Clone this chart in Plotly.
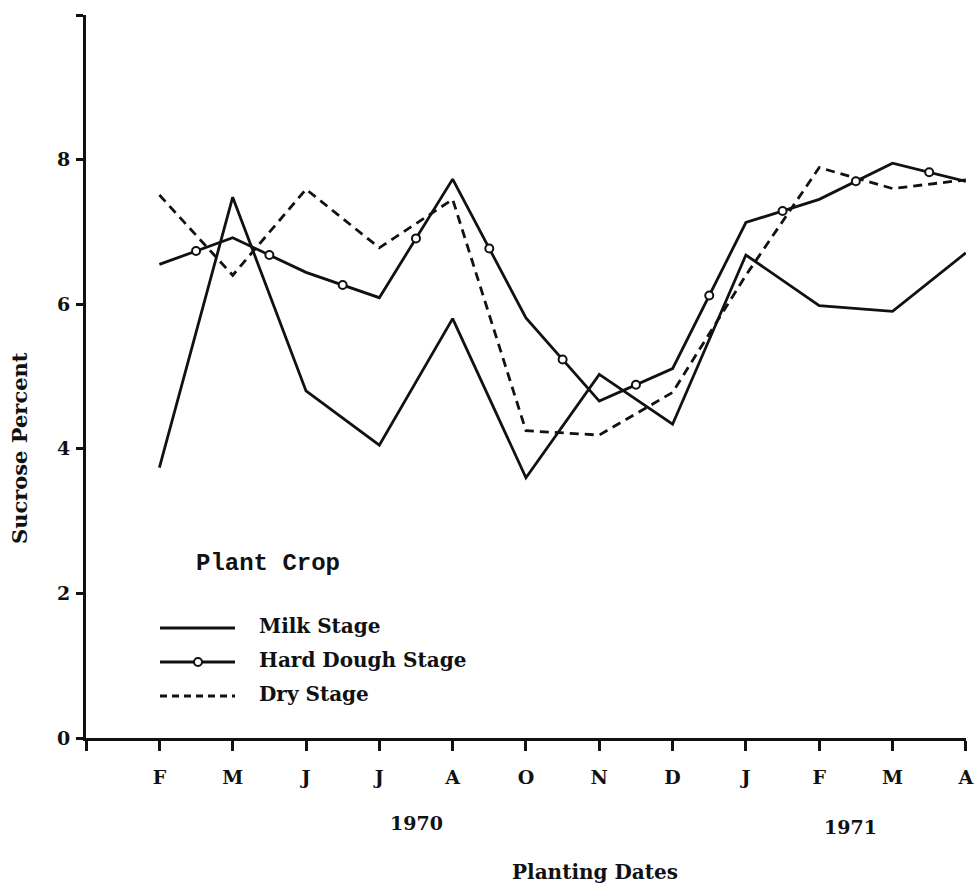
import plotly.graph_objects as go

# ---- data ----
months = ["F", "M", "J", "J", "A", "O", "N", "D", "J", "F", "M", "A"]
positions = list(range(1, 13))
milk_stage = [3.74, 7.48, 4.80, 4.05, 5.80, 3.60, 5.03, 4.34, 6.68, 5.98, 5.90, 6.71]
hard_dough_stage = [6.55, 6.92, 6.44, 6.09, 7.73, 5.81, 4.66, 5.11, 7.13, 7.45, 7.95, 7.70]
dry_stage = [7.51, 6.40, 7.59, 6.78, 7.45, 4.25, 4.19, 4.78, 6.40, 7.89, 7.60, 7.72]
y_ticks = [0, 2, 4, 6, 8, 10]
y_ticktext = ["0", "2", "4", "6", "8", ""]
years = ["1970", "1971"]
series_names = ["Milk Stage", "Hard Dough Stage", "Dry Stage"]

FONT = "DejaVu Serif"
BLACK = "#111111"
LW = 2.8

L, R, T, B = 86, 8, 15, 147
W, H = 974, 885
PW, PH = W - L - R, H - T - B

fig = go.Figure()

fig.add_trace(go.Scatter(x=positions, y=milk_stage, mode="lines", name=series_names[0],
                         line=dict(color=BLACK, width=LW), showlegend=False))
fig.add_trace(go.Scatter(x=positions, y=hard_dough_stage, mode="lines", name=series_names[1],
                         line=dict(color=BLACK, width=LW), showlegend=False))
fig.add_trace(go.Scatter(x=positions, y=dry_stage, mode="lines", name=series_names[2],
                         line=dict(color=BLACK, width=LW, dash="9px,6px"), showlegend=False))

# decorative open circles placed on each segment of the hard dough line
mid_x = [(positions[i] + positions[i + 1]) / 2 for i in range(len(positions) - 1)]
mid_y = [(hard_dough_stage[i] + hard_dough_stage[i + 1]) / 2 for i in range(len(positions) - 1)]
fig.add_trace(go.Scatter(x=mid_x, y=mid_y, mode="markers", showlegend=False, hoverinfo="skip",
                         marker=dict(symbol="circle", size=8, color="white",
                                     line=dict(color=BLACK, width=2))))

# ---- manual legend ----
def px_x(p):
    return (p - L) / PW

def px_y(p):
    return (H - B - p) / PH

shapes = []
rows = [628, 662, 696]
dashes = ["solid", "solid", "7px,5px"]
for r, d in zip(rows, dashes):
    shapes.append(dict(type="line", xref="paper", yref="paper",
                       x0=px_x(160), x1=px_x(235), y0=px_y(r), y1=px_y(r),
                       line=dict(color=BLACK, width=LW, dash=d)))
shapes.append(dict(type="circle", xref="paper", yref="paper",
                   xsizemode="pixel", ysizemode="pixel",
                   xanchor=px_x(198), yanchor=px_y(rows[1]),
                   x0=-4, x1=4, y0=-4, y1=4,
                   fillcolor="white", line=dict(color=BLACK, width=2)))

annotations = [
    dict(text="Plant Crop", xref="paper", yref="paper", x=px_x(194), y=px_y(563),
         xanchor="left", yanchor="middle", showarrow=False,
         font=dict(family="Liberation Mono", size=24, color=BLACK, weight="bold")),
]
for r, name in zip(rows, series_names):
    annotations.append(dict(text=name, xref="paper", yref="paper", x=px_x(257), y=px_y(r - 2),
                            xanchor="left", yanchor="middle", showarrow=False,
                            font=dict(family=FONT, size=20, color=BLACK, weight="bold")))

annotations += [
    dict(text="Sucrose Percent", xref="paper", yref="paper", x=px_x(19), y=px_y(448),
         textangle=-90, xanchor="center", yanchor="middle", showarrow=False,
         font=dict(family=FONT, size=21, color=BLACK, weight="bold")),
    dict(text=years[0], xref="paper", yref="paper", x=px_x(416), y=px_y(823),
         xanchor="center", yanchor="middle", showarrow=False,
         font=dict(family=FONT, size=19, color=BLACK, weight="bold")),
    dict(text=years[1], xref="paper", yref="paper", x=px_x(850), y=px_y(827),
         xanchor="center", yanchor="middle", showarrow=False,
         font=dict(family=FONT, size=19, color=BLACK, weight="bold")),
    dict(text="Planting Dates", xref="paper", yref="paper", x=px_x(595), y=px_y(872),
         xanchor="center", yanchor="middle", showarrow=False,
         font=dict(family=FONT, size=20, color=BLACK, weight="bold")),
]

fig.update_layout(
    width=W, height=H,
    margin=dict(l=L, r=R, t=T, b=B, autoexpand=False),
    paper_bgcolor="white", plot_bgcolor="white",
    shapes=shapes, annotations=annotations,
    font=dict(family=FONT, color=BLACK),
    xaxis=dict(range=[-0.001, 12.002], tickmode="array", tickvals=[0] + positions,
               ticktext=[""] + months, ticklabeloverflow="allow", automargin=False,
               ticks="outside", ticklen=10, tickwidth=2.5, tickcolor=BLACK,
               showline=True, linewidth=3, linecolor=BLACK, showgrid=False, zeroline=False,
               tickfont=dict(family=FONT, size=19, color=BLACK, weight="bold"),
               ticklabelstandoff=10),
    yaxis=dict(range=[0, 10], tickmode="array", tickvals=y_ticks, ticktext=y_ticktext,
               ticks="outside", ticklen=7, tickwidth=2.5, tickcolor=BLACK, automargin=False,
               showline=True, linewidth=3, linecolor=BLACK, showgrid=False, zeroline=False,
               tickfont=dict(family=FONT, size=19, color=BLACK, weight="bold"),
               ticklabelstandoff=2),
)

fig.write_html("out.html", config={"displayModeBar": False},
               post_script="document.body.style.margin='0';")
